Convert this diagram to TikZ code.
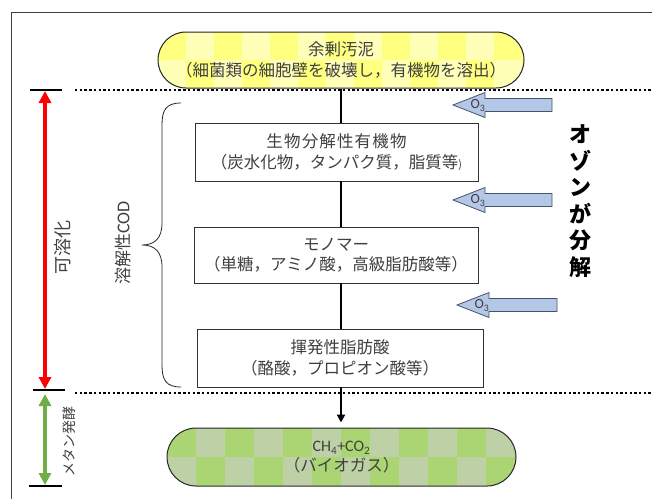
\documentclass[tikz,border=0pt]{standalone}
\usepackage{fontspec}
\setmainfont{Noto Sans CJK JP}
\newfontfamily\lat{Carlito}
\usetikzlibrary{arrows.meta}
\definecolor{txt}{HTML}{404040}
\definecolor{yelA}{HTML}{FFFF80}
\definecolor{yelB}{HTML}{FFFFB8}
\definecolor{grnA}{HTML}{AAD572}
\definecolor{grnB}{HTML}{BED0A6}
\definecolor{ofill}{HTML}{B4C7E7}
\definecolor{odraw}{HTML}{44546A}
\definecolor{redar}{HTML}{FF0000}
\definecolor{grnar}{HTML}{70AD47}
\tikzset{
  jp/.style={font=\fontsize{16.5}{20.5}\selectfont, text=txt, align=center},
  pill/.style n args={3}{draw=black!85, line width=1pt, jp, rounded corners=#3,
    path picture={
      \fill[#1, sharp corners] (path picture bounding box.south west) rectangle (path picture bounding box.north east);
      \foreach \i in {0,...,13}{
        \foreach \j in {0,1}{
          \pgfmathtruncatemacro\chk{mod(\i+\j,2)}
          \ifnum\chk=1
            \fill[#2, sharp corners] ([xshift=\i*#3, yshift=-\j*#3]path picture bounding box.north west) rectangle ++(#3,-#3);
          \fi
        }}
    }},
  stagebox/.style={draw=black!80, line width=0.8pt, fill=white, jp},
  conn/.style={line width=2pt, black},
  dotline/.style={line width=2.6pt, dash pattern=on 2.4pt off 2.3pt, black},
  tick/.style={line width=2pt, black},
  frame/.style={line width=0.9pt, black!75},
  brace/.style={line width=0.8pt, black!85},
  ozone/.pic={
    \draw[fill=ofill, draw=odraw, line width=0.8pt] (0,0) -- (32,-12.5) -- (32,-6.5) -- (#1,-6.5) -- (#1,6.5) -- (32,6.5) -- (32,12.5) -- cycle;
    \node[font=\lat\fontsize{14}{14}\selectfont, text=txt, inner sep=0pt] (-lab) at (25,0.5) {O\textsubscript{3}};
  }
}
\begin{document}
\begin{tikzpicture}[x=1pt, y=-1pt]
\useasboundingbox (0,0) rectangle (652,499);
% frame
\draw[frame] (11,499) -- (11,12) -- (652,12);
% pills
\node[pill={yelA}{yelB}{28pt}, minimum width=366pt, minimum height=56pt, inner sep=0pt] (top) at (341,60)
  {余剰汚泥\\（細菌類の細胞壁を破壊し，有機物を溶出）};
\node[pill={grnA}{grnB}{29pt}, minimum width=349pt, minimum height=58pt, inner sep=0pt] (bot) at (341.5,457)
  {{\lat\fontsize{16}{16}\selectfont CH\textsubscript{4}+CO\textsubscript{2}}\\[-1pt]（バイオガス）};
% stage boxes
\node[stagebox, minimum width=283pt, minimum height=58pt, inner sep=0pt] (b1) at (336.5,152)
  {{\addfontfeature{LetterSpace=7}生物分解性有機物}\\（炭水化物，タンパク質，脂質等{\fontsize{11}{11}\selectfont )}};
\node[stagebox, minimum width=284pt, minimum height=56pt, inner sep=0pt] (b2) at (336,255)
  {モノマー\\（単糖，アミノ酸，高級脂肪酸等）};
\node[stagebox, minimum width=286pt, minimum height=58pt, inner sep=0pt] (b3) at (340,358)
  {揮発性脂肪酸\\（酪酸，プロピオン酸等）};
% connectors
\draw[conn] (top.south) -- (top.south |- b1.north);
\draw[conn] (b1.south -| top.south) -- (top.south |- b2.north);
\draw[conn] (b2.south -| top.south) -- (top.south |- b3.north);
\draw[conn, -{Triangle[width=8pt,length=8pt]}, shorten >=5pt] (b3.south -| top.south) -- (top.south |- bot.north);
% dotted separators
\draw[dotline] (75,90) -- (652,90);
\draw[dotline] (75,393) -- (652,393);
% ticks
\draw[tick] (30,90) -- (62,90);
\draw[tick] (33,390) -- (65,390);
\draw[tick] (29,486) -- (62,486);
% range arrows
\draw[redar, line width=3.5pt, {Triangle[width=12pt,length=12pt]}-{Triangle[width=12pt,length=12pt]}] (45,91) -- (45,389);
\draw[grnar, line width=3.5pt, {Triangle[width=12pt,length=12pt]}-{Triangle[width=12pt,length=12pt]}] (45,394) -- (45,485);
\node[rotate=90, font=\fontsize{18}{18}\selectfont, text=txt] (kayo) at (63,247) {可溶化};
\node[rotate=90, font=\fontsize{14}{14}\selectfont, text=txt] (meta) at (69,441) {メタン発酵};
% brace
\draw[brace] (181,103) .. controls (166,103) and (162,110) .. (162,125) -- (162,223)
  .. controls (162,238) and (155,245) .. (142,245)
  .. controls (155,245) and (162,252) .. (162,267) -- (162,365)
  .. controls (162,380) and (166,387) .. (181,387);
\node[rotate=90, font=\fontsize{17}{17}\selectfont, text=txt] (cod) at (123,243) {溶解性{\lat\fontsize{18}{18}\selectfont COD}};
% ozone arrows
\pic (oz1) at (453,105) {ozone=99};
\pic (oz2) at (453,200) {ozone=99};
\pic (oz3) at (457,305) {ozone=100};
\node[font=\bfseries\fontsize{22}{26.5}\selectfont, align=center, text=black] (ozlabel) at (580,201) {オ\\ゾ\\ン\\が\\分\\解};
\end{tikzpicture}
\end{document}
